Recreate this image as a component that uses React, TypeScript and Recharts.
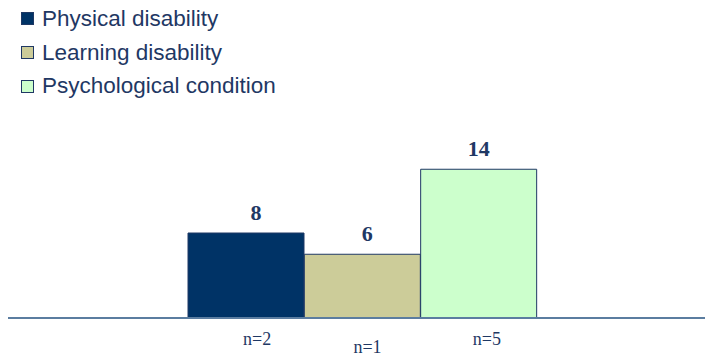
import { Bar, BarChart, Cell, LabelList, XAxis, YAxis } from 'recharts'

const groups = ['n=2', 'n=1', 'n=5']
const conditions = ['Physical disability', 'Learning disability', 'Psychological condition']
const counts = [8, 6, 14]

const fills = ['#003366', '#CCCC99', '#CCFFCC']
const navy = '#1F3864'

// label nudges, the value and n= labels sit a little off the bar centres
const valueDx = [10, 5, 0]
const tickDx = [11, 5, 8]

const data = groups.map((n, i) => ({ n, name: conditions[i], count: counts[i] }))

const GroupTick = (props: any) => {
	const { x, y, payload, index } = props
	const drop = index === 1 ? 27 : 19
	return (
		<text
			x={x + tickDx[index]}
			y={y + drop}
			textAnchor='middle'
			fill={navy}
			fontFamily='"Liberation Serif", "Times New Roman", serif'
			fontSize={18}
		>
			{payload.value}
		</text>
	)
}

const ValueLabel = (props: any) => {
	const { x, y, width, value, index } = props
	return (
		<text
			x={x + width / 2 + valueDx[index]}
			y={y - 13}
			textAnchor='middle'
			fill={navy}
			fontFamily='"Liberation Serif", "Times New Roman", serif'
			fontWeight='bold'
			fontSize={22}
		>
			{value}
		</text>
	)
}

export default function App() {
	return (
		<div style={{ position: 'absolute', left: 0, top: 0, width: 705, height: 358, background: '#fff' }}>
			<div
				style={{
					position: 'absolute',
					left: 21,
					top: 2,
					fontFamily: '"Liberation Sans", Arial, sans-serif',
					fontSize: 22.5,
					color: navy,
				}}
			>
				{conditions.map((c, i) => (
					<div key={c} style={{ display: 'flex', alignItems: 'center', height: 33.7 }}>
						<span
							style={{
								display: 'inline-block',
								width: 11,
								height: 11,
								background: fills[i],
								border: '1px solid ' + navy,
								marginRight: 8,
							}}
						/>
						{c}
					</div>
				))}
			</div>
			<BarChart
				width={705}
				height={358}
				data={data}
				margin={{ top: 148, right: 0, bottom: 0, left: 8 }}
				barCategoryGap={0}
			>
				<YAxis hide domain={[0, 16]} />
				<XAxis
					dataKey='n'
					height={40}
					padding={{ left: 180, right: 168 }}
					tickLine={false}
					axisLine={{ stroke: '#5B7DA0', strokeWidth: 2 }}
					tick={<GroupTick />}
					interval={0}
				/>
				<Bar dataKey='count' stroke={navy} strokeWidth={1} isAnimationActive={false}>
					{data.map((d, i) => (
						<Cell key={d.n} fill={fills[i]} />
					))}
					<LabelList dataKey='count' content={<ValueLabel />} />
				</Bar>
			</BarChart>
		</div>
	)
}
